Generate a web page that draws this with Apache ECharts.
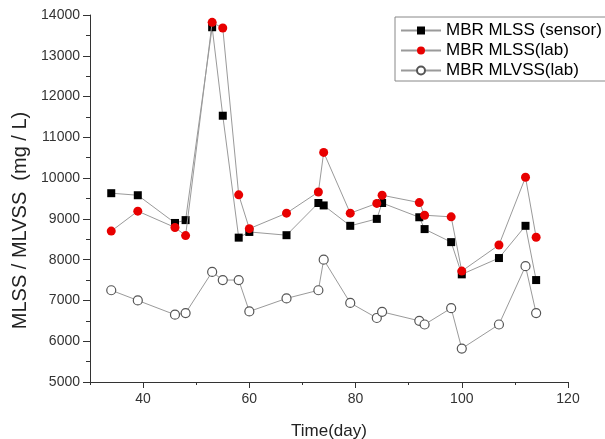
<!DOCTYPE html>
<html>
<head>
<meta charset="utf-8">
<script src="https://cdn.jsdelivr.net/npm/echarts@6/dist/echarts.min.js"></script>
<style>
  html, body { margin: 0; padding: 0; background: #fff; }
  #chart { width: 605px; height: 439px; }
</style>
</head>
<body>
<div id="chart"></div>
<script>
// Sampling days
var days = [34, 39, 46, 48, 53, 55, 58, 60, 67, 73, 74, 79, 84, 85, 92, 93, 98, 100, 107, 112, 114];
// MLSS measured by the online sensor (mg/L)
var sensorMlss = [9630, 9580, 8900, 8970, 13700, 11530, 8540, 8680, 8600, 9390, 9330, 8830, 9000, 9390, 9040, 8750, 8430, 7640, 8040, 8830, 7500];
// MLSS measured in the lab (mg/L)
var labMlss = [8700, 9190, 8790, 8590, 13820, 13680, 9590, 8760, 9140, 9660, 10630, 9140, 9380, 9580, 9400, 9090, 9050, 7720, 8360, 10020, 8550];
// MLVSS measured in the lab (mg/L)
var labMlvss = [7250, 7000, 6650, 6690, 7700, 7500, 7500, 6730, 7050, 7250, 8000, 6940, 6570, 6720, 6500, 6410, 6810, 5820, 6410, 7840, 6690];
// Labelled ticks on the time axis
var xTickLabels = [40, 60, 80, 100, 120];

var FONT = 'Liberation Sans, Arial, sans-serif';
var AXIS_COLOR = '#333';
var LINE_COLOR = '#9a9a9a';

function pairs(values) {
  return days.map(function (d, i) { return [d, values[i]]; });
}

var chart = echarts.init(document.getElementById('chart'), null, { renderer: 'canvas' });

chart.setOption({
  animation: false,
  backgroundColor: '#fff',
  grid: { left: 90, right: 37, top: 15, bottom: 57, containLabel: false, outerBoundsMode: 'none' },
  legend: {
    orient: 'vertical',
    left: 395,
    top: 17,
    itemWidth: 40,
    itemHeight: 10,
    itemGap: 3,
    padding: [5, 16, 2, 5],
    borderColor: '#888',
    borderWidth: 1,
    textStyle: { fontSize: 17, color: '#000', fontFamily: FONT },
    data: ['MBR MLSS (sensor)', 'MBR MLSS(lab)', 'MBR MLVSS(lab)']
  },
  xAxis: [
    {
      type: 'value',
      min: 30,
      max: 120,
      interval: 10,
      axisLine: { show: true, onZero: false, lineStyle: { color: AXIS_COLOR, width: 1 } },
      axisTick: { show: true, length: 3, lineStyle: { color: AXIS_COLOR } },
      axisLabel: { show: false },
      splitLine: { show: false },
      name: 'Time(day)',
      nameLocation: 'middle',
      nameGap: 41,
      nameTextStyle: { fontSize: 17, color: '#222', fontFamily: FONT }
    },
    {
      type: 'value',
      min: 30,
      max: 120,
      position: 'bottom',
      axisLine: { show: false, onZero: false },
      axisTick: { show: true, length: 6, customValues: xTickLabels, lineStyle: { color: AXIS_COLOR } },
      axisLabel: { customValues: xTickLabels, margin: 10, fontSize: 14, color: '#333', fontFamily: FONT },
      splitLine: { show: false }
    }
  ],
  yAxis: {
    type: 'value',
    min: 5000,
    max: 14000,
    interval: 1000,
    axisLine: { show: true, lineStyle: { color: AXIS_COLOR, width: 1 } },
    axisTick: { show: true, length: 7, lineStyle: { color: AXIS_COLOR } },
    minorTick: { show: true, splitNumber: 2, length: 4, lineStyle: { color: AXIS_COLOR } },
    axisLabel: {
      margin: 10, fontSize: 14, color: '#333', fontFamily: FONT,
      formatter: function (v) { return String(v); }
    },
    splitLine: { show: false },
    minorSplitLine: { show: false },
    name: 'MLSS / MLVSS  (mg / L)',
    nameLocation: 'middle',
    nameGap: 57,
    nameTextStyle: { fontSize: 20, color: '#222', fontFamily: FONT, padding: [0, 44, 0, 0] }
  },
  series: [
    {
      name: 'MBR MLSS (sensor)',
      type: 'line',
      xAxisIndex: 0,
      data: pairs(sensorMlss),
      symbol: 'rect',
      symbolSize: 8,
      showAllSymbol: true,
      itemStyle: { color: '#000' },
      lineStyle: { color: LINE_COLOR, width: 1 },
      z: 3
    },
    {
      name: 'MBR MLSS(lab)',
      type: 'line',
      xAxisIndex: 0,
      data: pairs(labMlss),
      symbol: 'circle',
      symbolSize: 9,
      showAllSymbol: true,
      itemStyle: { color: '#e80000' },
      lineStyle: { color: LINE_COLOR, width: 1 },
      z: 4
    },
    {
      name: 'MBR MLVSS(lab)',
      type: 'line',
      xAxisIndex: 0,
      data: pairs(labMlvss),
      symbol: 'circle',
      symbolSize: 9,
      showAllSymbol: true,
      itemStyle: { color: '#fff', borderColor: '#555', borderWidth: 1.2 },
      lineStyle: { color: LINE_COLOR, width: 1 },
      z: 5
    }
  ]
});
</script>
</body>
</html>
